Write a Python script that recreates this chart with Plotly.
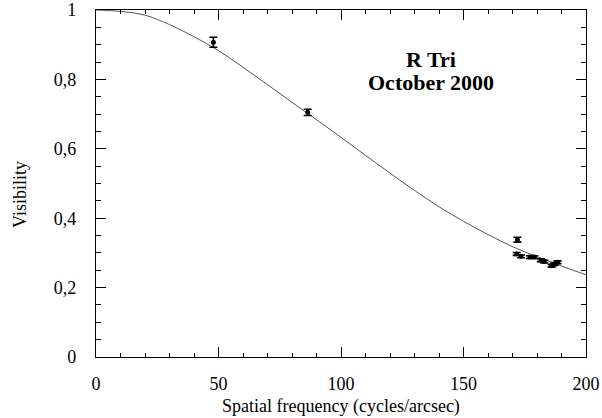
import plotly.graph_objects as go

# Measured visibilities with 1-sigma errors
freq = [47.9, 86.4, 172.0, 171.7, 173.5, 177.1, 178.9, 181.6, 183.0, 186.0, 187.1, 188.4]
vis = [0.907, 0.705, 0.338, 0.297, 0.290, 0.288, 0.288, 0.279, 0.275, 0.263, 0.268, 0.273]
vis_err = [0.0145, 0.009, 0.007, 0.004, 0.004, 0.004, 0.004, 0.004, 0.004, 0.004, 0.004, 0.004]

# Fitted model visibility curve, sampled every 10 cycles/arcsec
model_freq = [0, 10, 20, 30, 40, 50, 60, 70, 80, 90, 100,
              110, 120, 130, 140, 150, 160, 170, 180, 190, 200]
model_vis = [1.000, 0.996, 0.985, 0.958, 0.923, 0.883, 0.835, 0.785, 0.734, 0.684, 0.633,
             0.581, 0.530, 0.480, 0.433, 0.391, 0.353, 0.318, 0.289, 0.262, 0.237]

FONT = "Liberation Serif"

fig = go.Figure()
fig.add_trace(go.Scatter(
    x=model_freq, y=model_vis, mode="lines", line_shape="spline",
    line=dict(color="#555555", width=1), hoverinfo="skip", showlegend=False,
))
fig.add_trace(go.Scatter(
    x=freq, y=vis, mode="markers",
    marker=dict(color="black", size=5),
    error_y=dict(type="data", array=vis_err, color="black", thickness=1.6, width=4),
    showlegend=False,
))

axis_common = dict(
    showline=True, linecolor="black", linewidth=1.3, mirror="allticks",
    ticks="inside", ticklen=10, tickwidth=1, tickcolor="black",
    showgrid=False, zeroline=False, automargin=False,
    tickfont=dict(family=FONT, size=18, color="black"),
)

fig.update_xaxes(
    range=[0, 200], tickmode="linear", tick0=0, dtick=50, ticklabelstandoff=10,
    minor=dict(tick0=0, dtick=10, ticks="inside", ticklen=4, tickwidth=1, tickcolor="black"),
    **axis_common,
)
fig.update_yaxes(
    range=[0, 1], tickmode="linear", tick0=0, dtick=0.2, ticklabelstandoff=15,
    minor=dict(tick0=0, dtick=0.05, ticks="inside", ticklen=5, tickwidth=1, tickcolor="black"),
    **axis_common,
)

fig.add_annotation(
    x=0.5, y=0, xref="paper", yref="paper", xanchor="center", yanchor="middle", yshift=-49,
    text="Spatial frequency (cycles/arcsec)", showarrow=False,
    font=dict(family=FONT, size=18, color="black"),
)
fig.add_annotation(
    x=0, y=0.467, xref="paper", yref="paper", xanchor="center", yanchor="middle", xshift=-76,
    text="Visibility", textangle=-90, showarrow=False,
    font=dict(family=FONT, size=18, color="black"),
)
# Two-line label, placed line by line for tight spacing
for label, yv in [("<b>R Tri</b>", 0.856), ("<b>October 2000</b>", 0.790)]:
    fig.add_annotation(
        x=136.7, y=yv, xref="x", yref="y", xanchor="center", yanchor="middle",
        text=label, showarrow=False,
        font=dict(family=FONT, size=22, color="black"),
    )

fig.update_layout(
    width=602, height=418,
    margin=dict(l=96, r=16, t=10, b=61),
    paper_bgcolor="white", plot_bgcolor="white",
    separators=", ",
)

fig.write_html("out.html")
